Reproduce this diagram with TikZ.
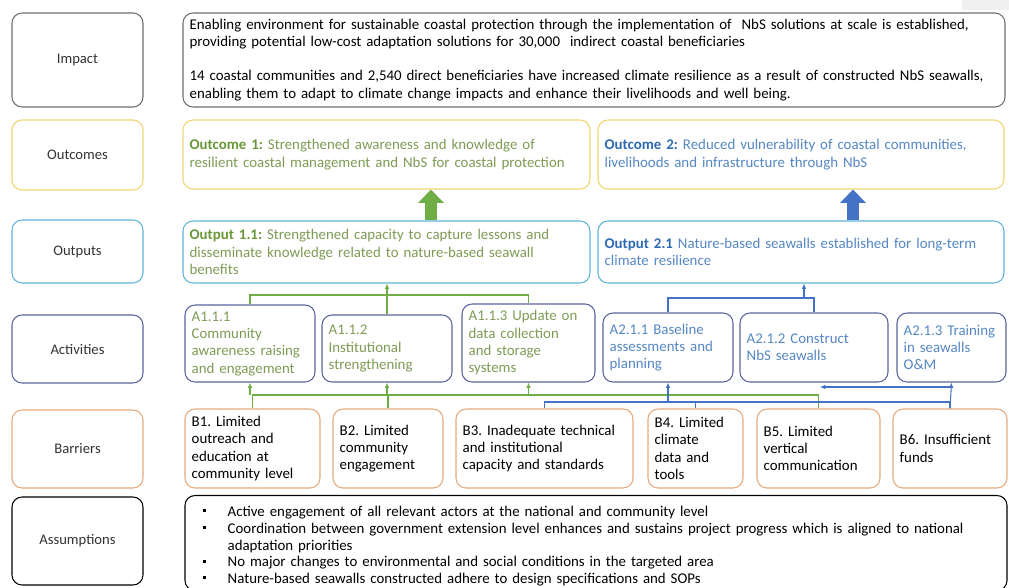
\documentclass[tikz,border=0pt]{standalone}
\usepackage{fontspec}
\setmainfont{Carlito}
\usepackage{tikz}
\usetikzlibrary{calc}
\usetikzlibrary{arrows.meta}
\frenchspacing

\definecolor{gris}{RGB}{110,110,110}
\definecolor{jaune}{RGB}{240,212,110}
\definecolor{cyanbord}{RGB}{95,180,215}
\definecolor{ardoise}{RGB}{90,100,155}
\definecolor{orangebord}{RGB}{228,170,125}
\definecolor{vert}{RGB}{105,150,55}
\definecolor{vertclair}{RGB}{125,155,85}
\definecolor{bleu}{RGB}{45,105,180}
\definecolor{bleuclair}{RGB}{85,135,195}
\definecolor{flvert}{RGB}{112,173,71}
\definecolor{flbleu}{RGB}{68,114,196}
\definecolor{texte}{RGB}{50,50,50}

\newcommand{\puce}{\par\hangindent=10.8mm\hangafter=1\noindent\hspace*{3.3mm}\makebox[7.5mm][l]{\rule[0.6ex]{0.9mm}{0.9mm}}}

\tikzset{
  boite/.style={draw, rounded corners=3mm, line width=0.9pt, align=left, inner xsep=2mm,
    text=texte, font=\fontsize{12.7}{14.8}\selectfont},
  etiq/.style={draw, rounded corners=3mm, line width=0.9pt, minimum width=39.3mm,
    text=texte, font=\fontsize{12.5}{14}\selectfont},
  lvert/.style={draw=flvert, line width=0.9pt},
  lbleu/.style={draw=flbleu, line width=0.9pt},
  fvert/.style={lvert, -{Latex[length=1.6mm,width=1.4mm]}},
  fbleu/.style={lbleu, -{Latex[length=1.6mm,width=1.4mm]}},
  grosse/.style={line width=3.6mm, -{Triangle[length=4mm,width=7.5mm]}},
}

\begin{document}
\begin{tikzpicture}[x=0.3mm,y=-0.3mm]
  \useasboundingbox (0,0) rectangle (1009,587);
  \clip (0,0) rectangle (1009,587);
  \fill[gray!12] (962,0) rectangle (1009,10);

  % Colonne des etiquettes
  \node[etiq, draw=gris, minimum height=28.2mm] (limpact) at (77.5,60) {Impact};
  \node[etiq, draw=jaune, minimum height=21mm] (loutc) at (77.5,155) {Outcomes};
  \node[etiq, draw=cyanbord, minimum height=18.9mm] (loutp) at (77.5,251.5) {Outputs};
  \node[etiq, draw=ardoise, minimum height=20.4mm] (lact) at (77.5,349) {Activities};
  \node[etiq, draw=orangebord, minimum height=23.4mm] (lbar) at (77.5,449) {Barriers};
  \node[etiq, draw=black, minimum height=26.4mm] (lass) at (77.5,541) {Assumptions};

  % Impact
  \node[boite, draw=gris, text=black, text width=242.6mm, minimum height=28.2mm] (impact) at (594,60)
    {Enabling environment for sustainable coastal protection through the implementation of \ NbS solutions at scale is established,\\
     providing potential low-cost adaptation solutions for 30,000 \ indirect coastal beneficiaries\\[5mm]
     14 coastal communities and 2,540 direct beneficiaries have increased climate resilience as a result of constructed NbS seawalls,\\
     enabling them to adapt to climate change impacts and enhance their livelihoods and well being.};

  % Outcomes
  \node[boite, draw=jaune, text=vertclair, text width=118.1mm, minimum height=20.7mm] (outc1) at (386.5,154.5)
    {\textcolor{vert}{\textbf{Outcome 1:}} Strengthened awareness and knowledge of\\
     resilient coastal management and NbS for coastal protection};
  \node[boite, draw=jaune, text=bleuclair, text width=117.8mm, minimum height=20.7mm] (outc2) at (801,154.5)
    {\textcolor{bleu}{\textbf{Outcome 2:}} Reduced vulnerability of coastal communities,\\
     livelihoods and infrastructure through NbS};

  % Outputs
  \node[boite, draw=cyanbord, text=vertclair, text width=118.1mm, minimum height=18.6mm] (outp1) at (386.5,252)
    {\textcolor{vert}{\textbf{Output 1.1:}} Strengthened capacity to capture lessons and\\
     disseminate knowledge related to nature-based seawall\\ benefits};
  \node[boite, draw=cyanbord, text=bleuclair, text width=117.8mm, minimum height=18.6mm] (outp2) at (801,252)
    {\textcolor{bleu}{\textbf{Output 2.1}} Nature-based seawalls established for long-term\\
     climate resilience};

  % Activites
  \node[boite, draw=ardoise, text=vertclair, text width=35mm, minimum height=23.1mm] (a111) at (250,343.5)
    {A1.1.1\\ Community\\ awareness raising\\ and engagement};
  \node[boite, draw=ardoise, text=vertclair, text width=35mm, minimum height=20.1mm] (a112) at (387,348.5)
    {A1.1.2\\ Institutional\\ strengthening};
  \node[boite, draw=ardoise, text=vertclair, text width=35.9mm, minimum height=23.4mm] (a113) at (528.5,343)
    {A1.1.3 Update on\\ data collection\\ and storage\\ systems};
  \node[boite, draw=ardoise, text=bleuclair, text width=35mm, minimum height=20.7mm] (a211) at (668,347.5)
    {A2.1.1 Baseline\\ assessments and\\ planning};
  \node[boite, draw=ardoise, text=bleuclair, text width=40.4mm, minimum height=20.7mm] (a212) at (814,347.5)
    {A2.1.2 Construct\\ NbS seawalls};
  \node[boite, draw=ardoise, text=bleuclair, text width=28.7mm, minimum height=20.7mm] (a213) at (951.5,347.5)
    {A2.1.3 Training\\ in seawalls\\ O\&M};

  % Barrieres
  \node[boite, draw=orangebord, text=black, text width=36.5mm, minimum height=23.7mm] (b1) at (252.5,448.5)
    {B1. Limited\\ outreach and\\ education at\\ community level};
  \node[boite, draw=orangebord, text=black, text width=29mm, minimum height=23.7mm] (b2) at (388,448.5)
    {B2. Limited\\ community\\ engagement};
  \node[boite, draw=orangebord, text=black, text width=49.1mm, minimum height=23.7mm] (b3) at (544.5,448.5)
    {B3. Inadequate technical\\ and institutional\\ capacity and standards};
  \node[boite, draw=orangebord, text=black, text width=24.5mm, minimum height=23.7mm] (b4) at (695.5,448.5)
    {B4. Limited\\ climate\\ data and\\ tools};
  \node[boite, draw=orangebord, text=black, text width=32.9mm, minimum height=23.7mm] (b5) at (818.5,448.5)
    {B5. Limited\\ vertical\\ communication};
  \node[boite, draw=orangebord, text=black, text width=30.2mm, minimum height=23.7mm] (b6) at (950,448.5)
    {B6. Insufficient\\ funds};

  % Hypotheses
  \node[boite, draw=black, text=black, text width=242.6mm, minimum height=28.5mm,
        font=\fontsize{12.7}{14.3}\selectfont] (assum) at (596,543)
    {\puce Active engagement of all relevant actors at the national and community level
     \puce Coordination between government extension level enhances and sustains project progress which is aligned to national\hfil\break
     adaptation priorities
     \puce No major changes to environmental and social conditions in the targeted area
     \puce Nature-based seawalls constructed adhere to design specifications and SOPs};

  % Grosses fleches vers les outcomes
  \coordinate (fv) at (431,0);
  \coordinate (fb) at (853,0);
  \draw[grosse, flvert] (outp1.north -| fv) -- (outc1.south -| fv);
  \draw[grosse, flbleu] (outp2.north -| fb) -- (outc2.south -| fb);

  % Activites vers Output 1.1
  \coordinate (j1) at (387,295);
  \draw[lvert] (a111.north) |- (j1) -| (a113.north);
  \draw[lvert] (a112.north) -- (j1);
  \draw[fvert] (j1) -- (outp1.south -| j1);

  % Activites vers Output 2.1
  \coordinate (j2) at (804,298);
  \draw[lbleu] (a211.north) |- (j2) -| (a212.north);
  \draw[fbleu] (j2) -- (outp2.south -| j2);

  % Barrieres vers activites (vert)
  \coordinate (bv) at (0,395);
  \draw[lvert] (b1.north) |- (bv -| b5.north) -- (b5.north);
  \draw[lvert] (b2.north) -- (b2.north |- bv);
  \draw[fvert] (a111.south |- bv) -- (a111.south);
  \draw[fvert] (a112.south |- bv) -- (a112.south);
  \draw[fvert] (a113.south |- bv) -- (a113.south);

  % Barrieres vers activites (bleu)
  \coordinate (bb) at (0,402);
  \coordinate (retour) at (820,387);
  \draw[lbleu] (b3.north) |- (bb -| b6.north) -- (b6.north);
  \draw[lbleu] (b4.north) -- (b4.north |- bb);
  \draw[fbleu] (a211.south |- bb) -- (a211.south);
  \draw[fbleu] (b6.north) -- (a213.south);
  \draw[fbleu] (b6.north |- retour) -- (retour);
\end{tikzpicture}
\end{document}
